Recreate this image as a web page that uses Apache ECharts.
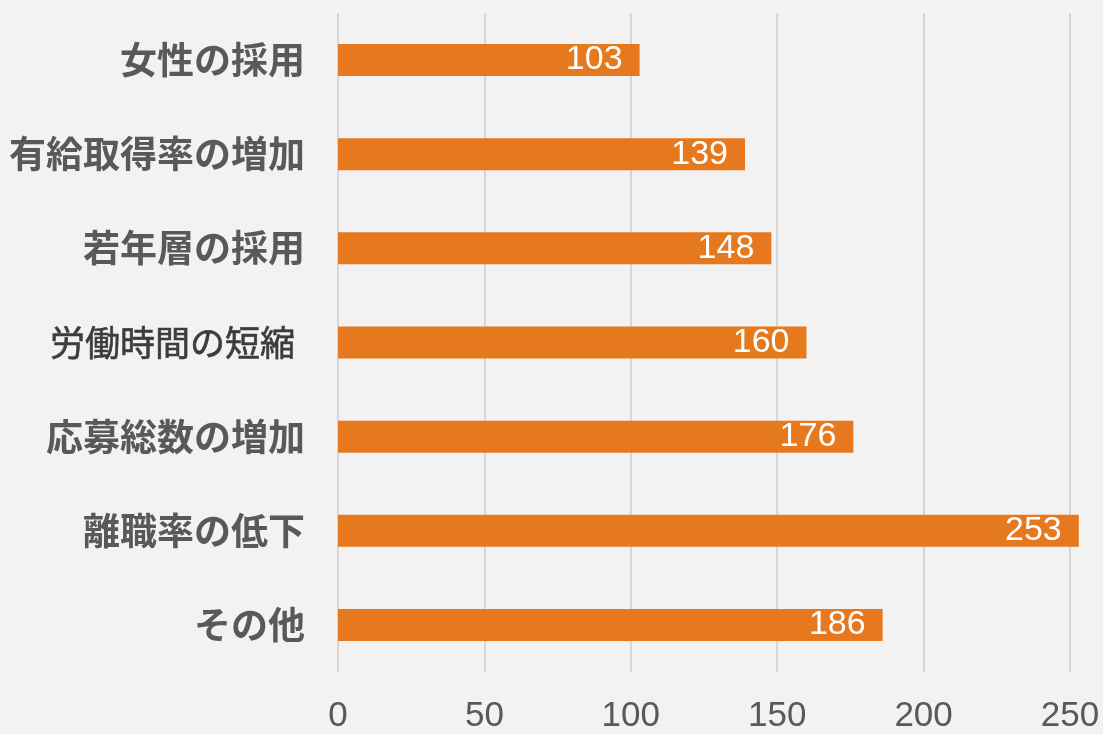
<!DOCTYPE html>
<html><head><meta charset="utf-8">
<script src="https://cdn.jsdelivr.net/npm/echarts@6/dist/echarts.min.js"></script>
<style>html,body{margin:0;padding:0;background:#f2f2f2;}#c{width:1103px;height:734px;}</style>
</head><body><div id="c"></div>
<script>
const categories = ['女性の採用','有給取得率の増加','若年層の採用','労働時間の短縮','応募総数の増加','離職率の低下','その他'];
const values = [103,139,148,160,176,253,186];
const xTicks = [0,50,100,150,200,250];

const chart = echarts.init(document.getElementById('c'));
chart.setOption({
  backgroundColor:'#f2f2f2',
  animation:false,
  grid:{left:338,right:33,top:13,bottom:59,containLabel:false},
  xAxis:{type:'value',min:xTicks[0],max:xTicks[xTicks.length-1],interval:50,
    axisLine:{show:false},axisTick:{show:false},
    splitLine:{show:true,lineStyle:{color:'#d6d6d6',width:2}},
    axisLabel:{color:'#595959',fontSize:35,fontFamily:'Liberation Sans, Arial, sans-serif',margin:27}},
  yAxis:{type:'category',data:categories,inverse:true,
    axisLine:{show:false},axisTick:{show:false},
    axisLabel:{margin:33,
      formatter:v=> v==='労働時間の短縮' ? '{n|'+v+'}' : '{b|'+v+'}',
      rich:{
        b:{color:'#595959',fontSize:37,fontWeight:'bold',fontFamily:'Noto Sans CJK JP, sans-serif'},
        n:{color:'#3c3c3c',fontSize:35,fontWeight:'normal',fontFamily:'Noto Sans CJK JP, sans-serif',padding:[0,10,0,0],
           textBorderColor:'#3c3c3c',textBorderWidth:0.6}
      }}},
  series:[{type:'bar',data:values,barWidth:32,clip:false,
    itemStyle:{color:'#e6781e'},
    label:{show:true,position:'insideRight',distance:17,color:'#ffffff',fontSize:34,
      fontFamily:'Liberation Sans, Arial, sans-serif'}}]
});
</script></body></html>
